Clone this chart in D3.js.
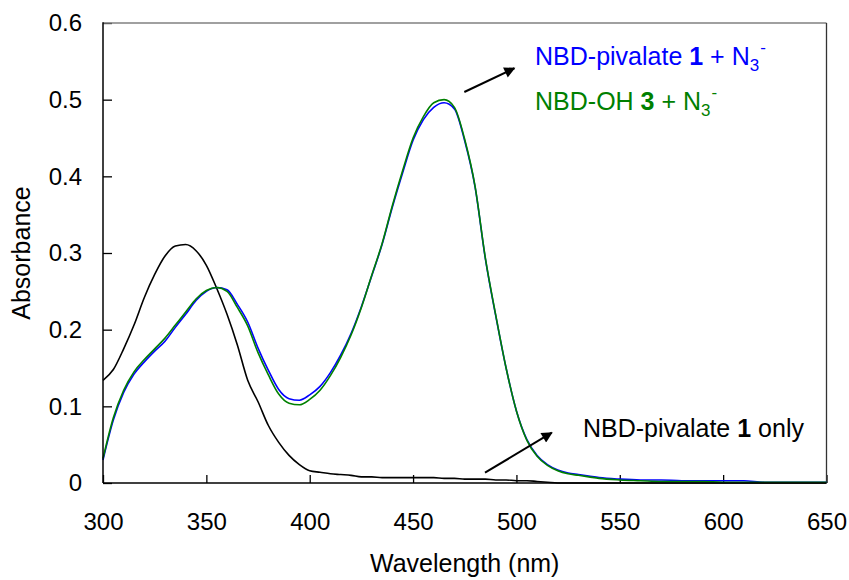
<!DOCTYPE html>
<html>
<head>
<meta charset="utf-8">
<script src="https://cdn.jsdelivr.net/npm/d3@7/dist/d3.min.js"></script>
<style>
  html, body { margin: 0; padding: 0; background: #fff; }
  svg { display: block; font-family: "Liberation Sans", Arial, Helvetica, sans-serif; }
</style>
</head>
<body>
<svg id="chart" width="849" height="580"></svg>
<script>
// Wavelength grid (nm)
const wavelengths = [
  300,305,310,315,320,325,330,335,340,345,350,355,360,365,370,375,380,385,390,395,
  400,405,410,415,420,425,430,435,440,445,450,455,460,465,470,475,480,485,490,495,
  500,505,510,515,520,525,530,535,540,550,560,570,580,590,600,610,620,630,640,650
];

// NBD-pivalate 1 only
const absPivalate = [
  0.134,0.148,0.175,0.206,0.242,0.272,0.296,0.309,0.311,0.303,0.284,0.254,0.220,0.180,0.134,0.106,0.075,0.053,0.036,0.024,
  0.016,0.014,0.012,0.011,0.010,0.008,0.008,0.007,0.007,0.007,0.007,0.007,0.007,0.006,0.006,0.005,0.005,0.005,0.004,0.004,
  0.003,0.003,0.002,0.001,0.000,0.000,0.000,0.000,0.000,0.000,0.000,0.000,0.000,0.000,0.000,0.000,0.000,0.000,0.000,0.000
];

// NBD-pivalate 1 + N3-
const absPivalateAzide = [
  0.030,0.082,0.118,0.142,0.158,0.172,0.185,0.203,0.220,0.238,0.250,0.255,0.252,0.233,0.210,0.176,0.147,0.122,0.110,0.108,
  0.115,0.126,0.144,0.167,0.195,0.230,0.270,0.311,0.360,0.405,0.447,0.474,0.490,0.496,0.488,0.446,0.386,0.292,0.218,0.150,
  0.094,0.057,0.036,0.024,0.017,0.013,0.011,0.009,0.007,0.005,0.004,0.004,0.003,0.003,0.003,0.003,0.001,0.001,0.001,0.001
];

// NBD-OH 3 + N3-
const absHydroxyAzide = [
  0.032,0.085,0.121,0.145,0.161,0.175,0.189,0.206,0.223,0.240,0.251,0.255,0.250,0.229,0.205,0.170,0.141,0.116,0.104,0.102,
  0.109,0.121,0.140,0.164,0.193,0.229,0.271,0.312,0.362,0.408,0.450,0.478,0.496,0.500,0.490,0.448,0.387,0.293,0.219,0.150,
  0.094,0.056,0.035,0.023,0.016,0.012,0.010,0.008,0.006,0.004,0.003,0.002,0.002,0.002,0.001,0.001,0.001,0.001,0.001,0.001
];

const xTicks = [300, 350, 400, 450, 500, 550, 600, 650];
const yTicks = [0, 0.1, 0.2, 0.3, 0.4, 0.5, 0.6];
const yTickLabels = ["0", "0.1", "0.2", "0.3", "0.4", "0.5", "0.6"];

const svg = d3.select("#chart");
const plot = { left: 103, right: 826.5, top: 23, bottom: 483 };

const x = d3.scaleLinear().domain([300, 650]).range([plot.left, plot.right]);
const y = d3.scaleLinear().domain([0, 0.6]).range([plot.bottom, plot.top]);

const fontSize = 24;
const titleSize = 25;

// Axes with inward ticks
const gx = svg.append("g")
  .attr("transform", `translate(0,${plot.bottom})`)
  .call(d3.axisBottom(x).tickValues(xTicks).tickSize(-8).tickPadding(30).tickFormat(d3.format("d")));
const gy = svg.append("g")
  .attr("transform", `translate(${plot.left},0)`)
  .call(d3.axisLeft(y).tickValues(yTicks).tickSize(-9).tickPadding(21)
    .tickFormat((d, i) => yTickLabels[i]));

[gx, gy].forEach(g => {
  g.select(".domain").remove();
  g.selectAll(".tick line").attr("stroke", "#000").attr("stroke-width", 1.3);
  g.selectAll(".tick text").attr("fill", "#000").style("font-size", fontSize + "px")
    .style("font-family", "'Liberation Sans', Arial, sans-serif");
});

// Plot frame: top/right in gray, axes black
svg.append("line").attr("x1", plot.left).attr("x2", plot.right).attr("y1", plot.top).attr("y2", plot.top)
  .attr("stroke", "#808080").attr("stroke-width", 1.5);
svg.append("line").attr("x1", plot.right).attr("x2", plot.right).attr("y1", plot.top).attr("y2", plot.bottom)
  .attr("stroke", "#333").attr("stroke-width", 1.3);

// Spectra
const series = [
  { values: absPivalate, color: "#000000" },
  { values: absPivalateAzide, color: "#0000ff" },
  { values: absHydroxyAzide, color: "#008000" }
];
const line = d3.line().curve(d3.curveMonotoneX).x(d => x(d[0])).y(d => y(d[1]));
series.forEach(s => {
  svg.append("path")
    .datum(wavelengths.map((w, i) => [w, s.values[i]]))
    .attr("fill", "none")
    .attr("stroke", s.color)
    .attr("stroke-width", 1.6)
    .attr("stroke-linejoin", "round")
    .attr("d", line);
});

svg.append("line").attr("x1", plot.left).attr("x2", plot.left).attr("y1", plot.top - 0.7).attr("y2", plot.bottom)
  .attr("stroke", "#000").attr("stroke-width", 1.5);
svg.append("line").attr("x1", plot.left).attr("x2", plot.right).attr("y1", plot.bottom).attr("y2", plot.bottom)
  .attr("stroke", "#000").attr("stroke-width", 1.5);

// Axis titles
svg.append("text")
  .attr("x", (plot.left + plot.right) / 2).attr("y", 572)
  .attr("text-anchor", "middle").style("font-size", titleSize + "px")
  .text("Wavelength (nm)");
svg.append("text")
  .attr("transform", `translate(30,${(plot.top + plot.bottom) / 2}) rotate(-90)`)
  .attr("text-anchor", "middle").style("font-size", titleSize + "px")
  .text("Absorbance");

// Arrow annotations
svg.append("defs").append("marker")
  .attr("id", "head").attr("viewBox", "0 0 10 10").attr("refX", 9).attr("refY", 5)
  .attr("markerUnits", "userSpaceOnUse").attr("markerWidth", 14).attr("markerHeight", 11)
  .attr("orient", "auto")
  .append("path").attr("d", "M0,0 L10,5 L0,10 Z").attr("fill", "#000");

const arrows = [
  { from: [474.8, 0.510], to: [499.0, 0.541] },
  { from: [484.8, 0.0134], to: [517.1, 0.0656] }
];
arrows.forEach(a => {
  svg.append("line")
    .attr("x1", x(a.from[0])).attr("y1", y(a.from[1]))
    .attr("x2", x(a.to[0])).attr("y2", y(a.to[1]))
    .attr("stroke", "#000").attr("stroke-width", 2)
    .attr("marker-end", "url(#head)");
});

// Series labels
const labelSize = 25;
function label(px, py, color, parts) {
  const t = svg.append("text").attr("x", px).attr("y", py).attr("fill", color)
    .style("font-size", labelSize + "px");
  parts.forEach(p => {
    const ts = t.append("tspan").text(p.text);
    if (p.bold) ts.style("font-weight", "bold");
    if (p.dy) ts.attr("dy", p.dy);
    if (p.dx) ts.attr("dx", p.dx);
    if (p.size) ts.style("font-size", p.size + "px");
  });
}
label(x(509), y(0.545), "#0000ff", [
  { text: "NBD-pivalate " }, { text: "1", bold: true }, { text: " + N" },
  { text: "3", dy: 6, size: 17 }, { text: "-", dy: -18, dx: 1, size: 17 }
]);
label(x(509), y(0.487), "#008000", [
  { text: "NBD-OH " }, { text: "3", bold: true }, { text: " + N" },
  { text: "3", dy: 6, size: 17 }, { text: "-", dy: -18, dx: 1, size: 17 }
]);
label(x(532.2), y(0.060), "#000000", [
  { text: "NBD-pivalate " }, { text: "1", bold: true }, { text: " only" }
]);
</script>
</body>
</html>
